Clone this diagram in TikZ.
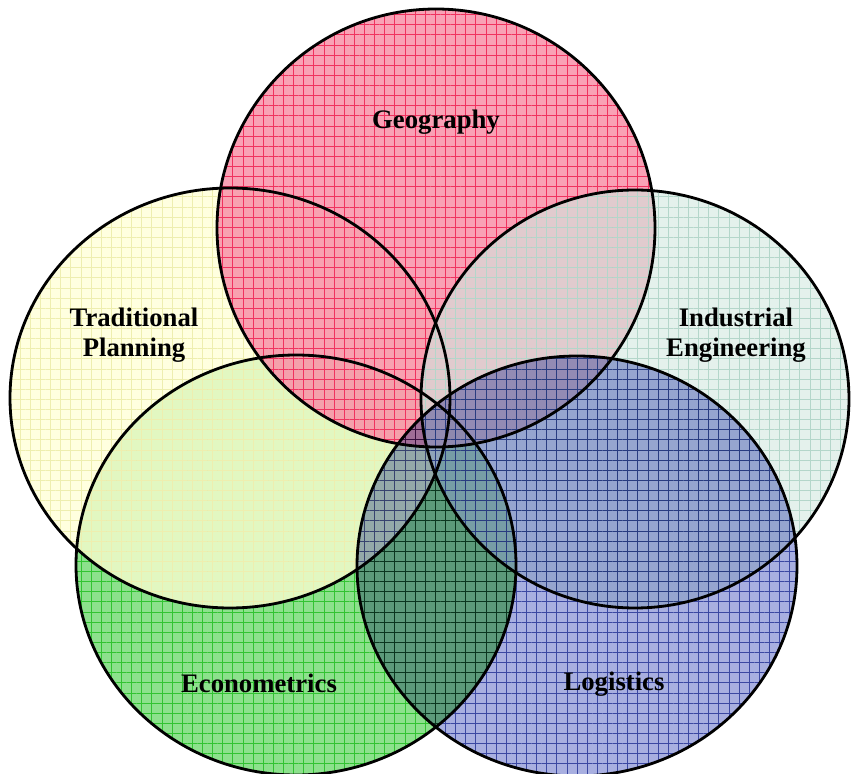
\documentclass[tikz,border=0pt]{standalone}
\usepackage{fontspec}
\setmainfont{Liberation Serif}
\usetikzlibrary{patterns.meta}
\definecolor{econbase}{RGB}{140,225,140}
\definecolor{econline}{RGB}{50,195,50}
\definecolor{tradbase}{RGB}{255,255,212}
\definecolor{tradline}{RGB}{238,238,175}
\definecolor{geobase}{RGB}{248,145,168}
\definecolor{geoline}{RGB}{240,50,95}
\definecolor{indbase}{RGB}{210,232,224}
\definecolor{indline}{RGB}{180,214,202}
\definecolor{logbase}{RGB}{168,175,224}
\definecolor{logline}{RGB}{90,105,185}
\tikzset {
  every node/.style={font=\fontsize{19}{21.5}\selectfont\bfseries, align=center},
  outline/.style={draw=black, line width=2pt},
  grid lines/.style={pattern={Hatch[distance=7.2pt,line width=0.6pt]}, pattern color=#1},
  big/.style={x radius=220, y radius=210},
}

\begin{document}
\begin{tikzpicture}[x=0.025cm,y=-0.025cm]
  \useasboundingbox (0,0) rectangle (851,774);
  \coordinate (econ) at (296,565);
  \coordinate (trad) at (230,398);
  \coordinate (geo) at (436,228);
  \coordinate (ind) at (635,399);
  \coordinate (log) at (577,566);
  % fills, lowest first
  \fill[econbase] (econ) ellipse[big];
  \path[grid lines=econline] (econ) ellipse[big];
  \begin{scope}[fill opacity=0.75]
    \fill[tradbase] (trad) ellipse[big];
    \path[grid lines=tradline] (trad) ellipse[big];
  \end{scope}
  \begin{scope}[fill opacity=0.85]
    \fill[geobase] (geo) circle[radius=219];
    \path[grid lines=geoline] (geo) circle[radius=219];
  \end{scope}
  \begin{scope}[fill opacity=0.6]
    \fill[indbase] (ind) ellipse[x radius=214, y radius=209];
    \path[grid lines=indline] (ind) ellipse[x radius=214, y radius=209];
  \end{scope}
  \begin{scope}[blend mode=multiply]
    \fill[logbase] (log) ellipse[big];
    \path[grid lines=logline] (log) ellipse[big];
  \end{scope}
  % outlines on top
  \draw[outline] (econ) ellipse[big];
  \draw[outline] (trad) ellipse[big];
  \draw[outline] (geo) circle[radius=219];
  \draw[outline] (ind) ellipse[x radius=214, y radius=209];
  \draw[outline] (log) ellipse[big];
  % labels
  \node (geolabel) at (436,122) {Geography};
  \node (tradlabel) at (134,335) {Traditional\\Planning};
  \node (indlabel) at (736,335) {Industrial\\Engineering};
  \node (econlabel) at (259,683) {Econometrics};
  \node (loglabel) at (614,684) {Logistics};
\end{tikzpicture}
\end{document}
